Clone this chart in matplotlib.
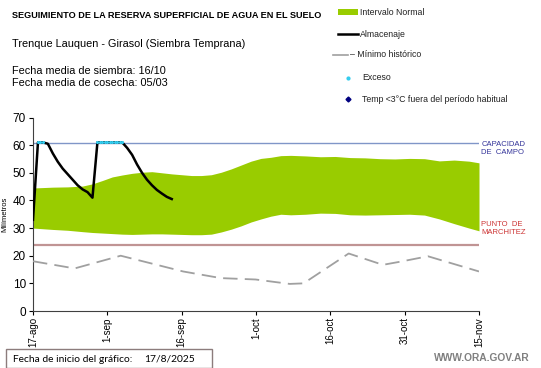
import matplotlib
matplotlib.use("Agg")
import matplotlib.pyplot as plt
from matplotlib.lines import Line2D
from matplotlib.patches import Rectangle

plt.rcParams["font.family"] = ["Liberation Sans", "DejaVu Sans"]

# ------------------------------------------------------------------
# Data (days since 17-ago-2025)
# ------------------------------------------------------------------
tick_days = [0, 15, 30, 45, 60, 75, 90]
tick_labels = ["17-ago", "1-sep", "16-sep", "1-oct", "16-oct", "31-oct", "15-nov"]

band_days = [0, 4, 7, 10, 12, 14, 16, 18, 20, 22, 24, 26, 28, 30, 32, 34, 36, 38,
             40, 42, 44, 46, 48, 50, 52, 55, 58, 61, 64, 67, 70, 73, 76, 79, 82,
             85, 88, 90]
band_high = [44.5, 44.8, 44.9, 45.2, 46.0, 47.2, 48.5, 49.2, 49.8, 50.2, 50.4, 50.0,
             49.6, 49.3, 49.0, 49.0, 49.3, 50.2, 51.4, 52.8, 54.2, 55.2, 55.6, 56.2,
             56.3, 56.1, 55.8, 55.9, 55.5, 55.4, 55.1, 55.0, 55.2, 55.1, 54.3, 54.6,
             54.2, 53.6]
band_low = [30.0, 29.5, 29.2, 28.7, 28.4, 28.2, 28.0, 27.8, 27.7, 27.8, 27.9, 27.9,
            27.8, 27.7, 27.6, 27.6, 27.8, 28.6, 29.6, 30.8, 32.2, 33.3, 34.3, 35.0,
            34.8, 35.0, 35.4, 35.3, 34.8, 34.7, 34.8, 34.9, 35.0, 34.7, 33.3, 31.6,
            30.0, 29.0]

store_days = list(range(0, 29))
store_vals = [33.0, 61.0, 61.0, 60.5, 57.0, 54.0, 51.5, 49.5, 47.5, 45.5, 44.0, 43.0,
              41.0, 61.0, 61.0, 61.0, 61.0, 61.0, 61.0, 59.0, 56.5, 53.0, 50.0, 47.5,
              45.5, 43.8, 42.5, 41.3, 40.5]

excess_days = [1, 1.5, 2, 13, 13.5, 14, 14.5, 15, 15.5, 16, 16.5, 17, 17.5, 18]
excess_vals = [61.0] * len(excess_days)

min_days = [0, 8.4, 17.7, 30.3, 37.9, 44.9, 51.8, 54.6, 63.7, 70.6, 74.0, 79.7, 90]
min_vals = [18.0, 15.4, 20.0, 14.3, 11.9, 11.4, 9.8, 10.0, 20.8, 16.7, 17.8, 19.8, 14.3]

capacidad_campo = 60.8
punto_marchitez = 24.0

legend_labels = ["Intervalo Normal", "Almacenaje", "– Mínimo histórico", "Exceso",
                 "Temp <3°C fuera del período habitual"]

W, H = 541, 368


def fx(px):
    return px / W


def fy(py):
    return 1 - py / H


# ------------------------------------------------------------------
# Figure
# ------------------------------------------------------------------
fig = plt.figure(figsize=(5.41, 3.68), dpi=100)
ax = fig.add_axes([fx(33), fy(311), 446 / W, 193.5 / H])

ax.fill_between(band_days, band_low, band_high, color="#99CC00", lw=0, zorder=1)
ax.axhline(capacidad_campo, color="#8096C8", lw=1.0, zorder=2)
ax.axhline(punto_marchitez, color="#C09494", lw=1.6, zorder=2)
ax.plot(min_days, min_vals, color="#A0A0A0", lw=1.3, dashes=(8, 4), zorder=3)
ax.plot(store_days, store_vals, color="black", lw=1.8, zorder=4)
ax.plot(excess_days, excess_vals, ls="none", marker="o", ms=1.2,
        color="#33CCEE", zorder=5)

ax.set_xlim(0, 90)
ax.set_ylim(0, 70)
ax.set_yticks(range(0, 71, 10))
ax.set_xticks(tick_days)
ax.set_xticklabels(tick_labels, rotation=90, fontsize=7.0)
ax.tick_params(axis="y", labelsize=8.5, length=3, pad=2)
ax.tick_params(axis="x", length=3, pad=1.5)
for s in ["top", "right"]:
    ax.spines[s].set_visible(False)
for s in ["left", "bottom"]:
    ax.spines[s].set_color("#404040")
ax.set_ylabel("Milímetros", fontsize=5.5, labelpad=3)

# side labels
ax.text(1.005, (capacidad_campo - 2) / 70, "CAPACIDAD\nDE  CAMPO", transform=ax.transAxes,
        fontsize=5.5, color="#333399", va="center", ha="left", linespacing=1.2)
ax.text(1.005, (punto_marchitez + 6) / 70, "PUNTO  DE\nMARCHITEZ", transform=ax.transAxes,
        fontsize=5.5, color="#CC3333", va="center", ha="left", linespacing=1.2)

# header texts
fig.text(fx(12), fy(15.5), "SEGUIMIENTO DE LA RESERVA SUPERFICIAL DE AGUA EN EL SUELO",
         fontsize=6.6, fontweight="bold", va="center")
fig.text(fx(12), fy(44), "Trenque Lauquen - Girasol (Siembra Temprana)",
         fontsize=7.8, va="center")
fig.text(fx(12), fy(71), "Fecha media de siembra: 16/10", fontsize=7.8, va="center")
fig.text(fx(12), fy(83), "Fecha media de cosecha: 05/03", fontsize=7.8, va="center")

# legend (drawn by hand to follow the original layout)
fig.add_artist(Rectangle((fx(338), fy(14.5)), 20 / W, 5 / H, transform=fig.transFigure,
                         color="#99CC00", lw=0))
fig.add_artist(Line2D([fx(338), fx(358)], [fy(34.3)] * 2, transform=fig.transFigure,
                      color="black", lw=1.8))
fig.add_artist(Line2D([fx(333), fx(348)], [fy(55)] * 2, transform=fig.transFigure,
                      color="#A0A0A0", lw=1.2))
fig.add_artist(Line2D([fx(348)], [fy(77.5)], transform=fig.transFigure, ls="none",
                      marker="o", ms=2, color="#33CCEE"))
fig.add_artist(Line2D([fx(348)], [fy(99)], transform=fig.transFigure, ls="none",
                      marker="D", ms=2.5, color="#000080"))
legend_pos = [(360, 12.3), (360, 34.3), (350, 54.5), (362, 77.3), (362, 99)]
for (px, py), lab in zip(legend_pos, legend_labels):
    fig.text(fx(px), fy(py), lab, fontsize=6.3, va="center", color="#222222")

# footer
fig.add_artist(Rectangle((fx(6), fy(367.5)), 206 / W, 18.5 / H, transform=fig.transFigure,
                         fc="white", ec="#8C7C7C", lw=1.0, zorder=5))
fig.text(fx(13), fy(359), "Fecha de inicio del gráfico:", fontsize=7.4,
         family=["Lato", "DejaVu Sans"], va="center", zorder=6)
fig.text(fx(144), fy(359), "17/8/2025", fontsize=7.4,
         family=["Lato", "DejaVu Sans"], va="center", zorder=6)
fig.text(fx(530), fy(358), "WWW.ORA.GOV.AR", fontsize=7.4, fontweight="bold",
         color="#808080", ha="right", va="center")

fig.savefig("out.png", dpi=100)
